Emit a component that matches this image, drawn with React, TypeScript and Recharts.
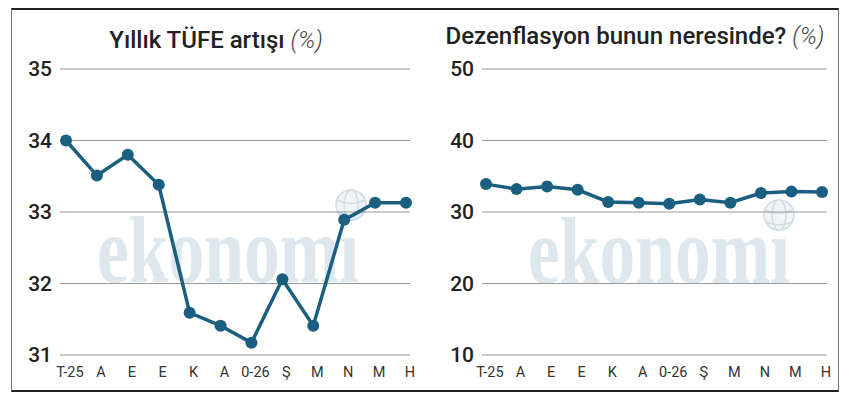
import React from "react";
import { LineChart, Line, XAxis, YAxis, CartesianGrid } from "recharts";

const months = ["T-25", "A", "E", "E", "K", "A", "0-26", "Ş", "M", "N", "M", "H"];
const tufe = [34.0, 33.51, 33.8, 33.38, 31.59, 31.41, 31.17, 32.06, 31.41, 32.89, 33.13, 33.13];
const dezenflasyon = [33.9, 33.2, 33.55, 33.1, 31.4, 31.3, 31.15, 31.75, 31.3, 32.65, 32.85, 32.8];
const tufeTicks = [31, 32, 33, 34, 35];
const dezTicks = [10, 20, 30, 40, 50];

const LINE = "#1a5f7f";
const FONT = "Roboto, 'Noto Sans', sans-serif";

const tufeData = months.map((m, i) => ({ m, v: tufe[i] }));
const dezData = months.map((m, i) => ({ m, v: dezenflasyon[i] }));

function MonthTick(props: any) {
  const { x, y, payload } = props;
  return (
    <text x={x + 4} y={y} dy="0.71em" textAnchor="middle" fontSize={14.5} fill="#333" fontFamily={FONT}>
      {payload.value}
    </text>
  );
}

// faint "ekonomi" mark, the globe stands in for the dot of the i
function Watermark({ x, y, globeX, globeY }: { x: number; y: number; globeX: number; globeY: number }) {
  return (
    <g>
      <text
        transform={`translate(${x},${y}) scale(0.745,1)`}
        fontFamily="'Liberation Serif', serif"
        fontWeight="bold"
        fontSize={96}
        fill="#dde7ee"
      >
        ekonomı
      </text>
      <g stroke="#cfdde6" fill="#f1f5f8" strokeWidth={1.6}>
        <circle cx={globeX} cy={globeY} r={15} />
        <ellipse cx={globeX} cy={globeY} rx={7} ry={15} fill="none" />
        <path fill="none" d={`M ${globeX - 14} ${globeY - 5} Q ${globeX} ${globeY + 2} ${globeX + 14} ${globeY - 5}`} />
        <path fill="none" d={`M ${globeX - 13} ${globeY + 7} Q ${globeX} ${globeY + 13} ${globeX + 13} ${globeY + 7}`} />
      </g>
    </g>
  );
}

function Panel({ data, ticks, domain, padding, marginLeft, marginRight }: any) {
  return (
    <LineChart
      width={425}
      height={398}
      data={data}
      margin={{ top: 69, bottom: 13, left: marginLeft, right: marginRight }}
    >
      <CartesianGrid horizontal vertical={false} stroke="#9a9a9a" strokeWidth={1.2} />
      <XAxis
        dataKey="m"
        axisLine={false}
        tickLine={false}
        tickSize={0}
        tickMargin={12}
        height={30}
        interval={0}
        padding={padding}
        tick={<MonthTick />}
      />
      <YAxis
        domain={domain}
        ticks={ticks}
        axisLine={false}
        tickLine={false}
        tickSize={0}
        tickMargin={8}
        width={50}
        tick={{ fontSize: 21, fill: "#222", fontWeight: 500, fontFamily: FONT }}
      />
      <Line
        dataKey="v"
        stroke={LINE}
        strokeWidth={3.5}
        dot={{ r: 6, fill: LINE, stroke: LINE, strokeWidth: 0 }}
        isAnimationActive={false}
      />
    </LineChart>
  );
}

const titleStyle: React.CSSProperties = {
  position: "absolute",
  fontFamily: FONT,
  fontSize: 24,
  fontWeight: 500,
  color: "#222",
  whiteSpace: "nowrap",
  transform: "translateX(-50%)",
  lineHeight: "30px",
};
const pctStyle: React.CSSProperties = { fontStyle: "italic", fontWeight: 300, color: "#444" };

export default function App() {
  return (
    <div style={{ position: "absolute", left: 0, top: 0, width: 850, height: 398, background: "#fff" }}>
      <div
        style={{
          position: "absolute",
          left: 11,
          top: 8,
          width: 826,
          height: 380,
          borderTop: "2px solid #222",
          borderBottom: "2px solid #222",
          borderLeft: "1px solid #777",
          borderRight: "1px solid #777",
        }}
      />
      <svg width={850} height={398} style={{ position: "absolute", left: 0, top: 0 }}>
        <Watermark x={97} y={282} globeX={351} globeY={205} />
        <Watermark x={528} y={283} globeX={779} globeY={215} />
      </svg>
      <div style={{ ...titleStyle, left: 216, top: 25 }}>
        Yıllık TÜFE artışı <span style={pctStyle}>(%)</span>
      </div>
      <div style={{ ...titleStyle, left: 635, top: 21 }}>
        Dezenflasyon bunun neresinde? <span style={pctStyle}>(%)</span>
      </div>
      <div style={{ position: "absolute", left: 0, top: 0 }}>
        <Panel data={tufeData} ticks={tufeTicks} domain={[31, 35]} padding={{ left: 6, right: 4 }} marginLeft={10} marginRight={15} />
      </div>
      <div style={{ position: "absolute", left: 425, top: 0 }}>
        <Panel data={dezData} ticks={dezTicks} domain={[10, 50]} padding={{ left: 4, right: 5 }} marginLeft={7} marginRight={23} />
      </div>
    </div>
  );
}
